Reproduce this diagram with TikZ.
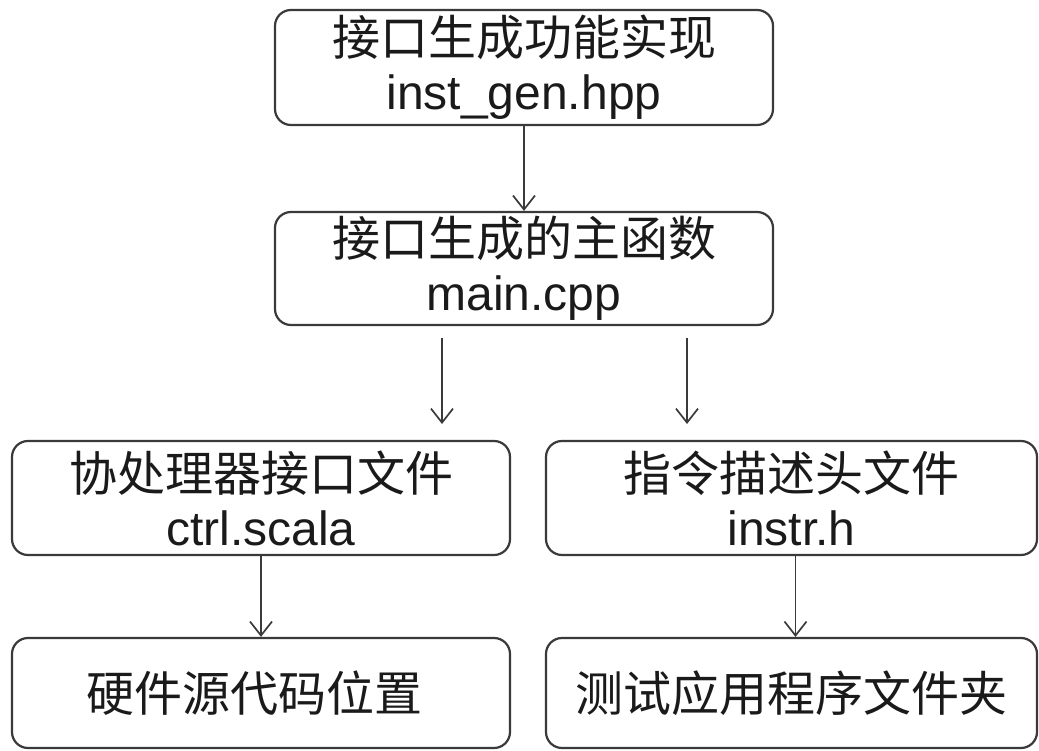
\documentclass[tikz,border=0pt]{standalone}
\usepackage{fontspec}
\setmainfont{Liberation Sans}
\newfontfamily\cjk{Noto Sans CJK SC}
\usetikzlibrary{arrows.meta}
\definecolor{edge}{HTML}{3A3A3A}
\definecolor{ink}{HTML}{1A1A1A}
\begin{document}
\begin{tikzpicture}[x=1pt,y=-1pt,
  box/.style={draw=edge, line width=2.2pt, rounded corners=16pt, align=center,
    inner sep=0pt, text=ink, font=\fontsize{48}{54}\selectfont},
  conn/.style={draw=edge, line width=1.7pt,
    -{Straight Barb[length=14pt,width=22pt,line width=1.7pt]}}]
\useasboundingbox (0,0) rectangle (1039,751);
\node[box, minimum width=498pt, minimum height=115pt] (impl) at (524,67.5)
  {{\cjk 接口生成功能实现}\\inst\_gen.hpp};
\node[box, minimum width=498pt, minimum height=113pt] (mainf) at (524,268.5)
  {{\cjk 接口生成的主函数}\\main.cpp};
\node[box, minimum width=498pt, minimum height=114pt] (ctrl) at (261,498)
  {{\cjk 协处理器接口文件}\\ctrl.scala};
\node[box, minimum width=491pt, minimum height=114pt] (instr) at (791.5,498)
  {{\cjk 指令描述头文件}\\instr.h};
\node[box, minimum width=498pt, minimum height=110pt] (hw) at (261,693)
  {\cjk 硬件源代码位置\hspace*{14pt}};
\node[box, minimum width=491pt, minimum height=110pt] (test) at (791.5,693)
  {\cjk 测试应用程序文件夹};
\coordinate (a1) at (442,338);
\coordinate (a2) at (442,424);
\coordinate (b1) at (687,338);
\coordinate (b2) at (687,424);
\draw[conn] (impl.south) -- (mainf.north);
\draw[conn] (a1) -- (a2);
\draw[conn] (b1) -- (b2);
\draw[conn] (ctrl.south) -- (hw.north);
\draw[conn] ([xshift=4pt]instr.south) -- ([xshift=4pt]test.north);
\end{tikzpicture}
\end{document}
